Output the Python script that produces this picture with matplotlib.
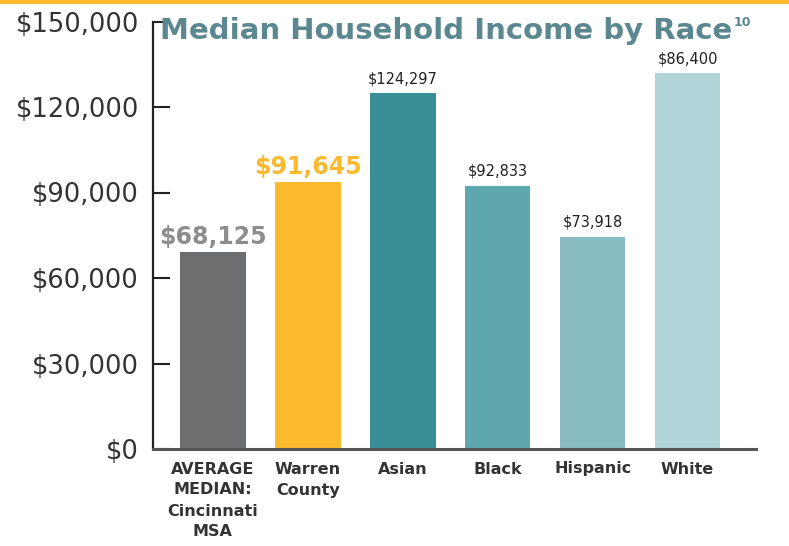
import matplotlib
matplotlib.use("Agg")
import matplotlib.pyplot as plt
from matplotlib.lines import Line2D

categories = ["AVERAGE\nMEDIAN:\nCincinnati\nMSA", "Warren\nCounty", "Asian", "Black", "Hispanic", "White"]
values = [69000, 93700, 124800, 92300, 74400, 131800]
value_labels = ["$68,125", "$91,645", "$124,297", "$92,833", "$73,918", "$86,400"]
colors = ["#6d6e70", "#fbb92e", "#3a8e96", "#5fa7ae", "#88bcc2", "#b1d4d8"]
yticks = [0, 30000, 60000, 90000, 120000, 150000]
ytick_labels = ["$0", "$30,000", "$60,000", "$90,000", "$120,000", "$150,000"]

plt.rcParams['font.family'] = ['DejaVu Sans']

fig = plt.figure(figsize=(7.89, 5.46), dpi=100)
ax = fig.add_axes([153 / 789, 1 - 449 / 546, (756 - 153) / 789, (449 - 21.5) / 546])

x = list(range(len(values)))
ax.bar(x, values, width=0.69, color=colors, zorder=2)

ax.set_ylim(0, 150000)
ax.set_xlim(-0.63, 5.72)
ax.set_yticks(yticks)
ax.set_yticklabels(ytick_labels, fontsize=18.5, color="#333333")
ax.set_xticks(x)
ax.set_xticklabels(categories, fontsize=11.5, fontweight="bold", color="#333333",
                   linespacing=1.5, va="top")
ax.tick_params(axis="y", direction="in", length=12, width=1.5, pad=10, color="#222222")
ax.tick_params(axis="x", length=0, pad=9)

for s in ["top", "right"]:
    ax.spines[s].set_visible(False)
ax.spines["left"].set_linewidth(1.6)
ax.spines["left"].set_color("#222222")
ax.spines["bottom"].set_linewidth(2.2)
ax.spines["bottom"].set_color("#555555")

# value labels
for i, (v, lab) in enumerate(zip(values, value_labels)):
    if i == 0:
        ax.text(i, v + 1200, lab, ha="center", va="bottom", fontsize=17,
                fontweight="bold", color="#8c8d8f")
    elif i == 1:
        ax.text(i, v + 1200, lab, ha="center", va="bottom", fontsize=17,
                fontweight="bold", color="#fbb92e")
    else:
        ax.text(i, v + 2500, lab, ha="center", va="bottom", fontsize=10.5,
                color="#222222")

# title with superscript
title = fig.text(160 / 789, 1 - 31 / 546, "Median Household Income by Race",
                 fontsize=21, fontweight="bold", color="#5b8790", va="center", ha="left")
fig.canvas.draw()
bb = title.get_window_extent()
fig.text(bb.x1 / fig.bbox.width + 0.002, 1 - 22 / 546, "10", fontsize=9,
         fontweight="bold", color="#5b8790", va="center", ha="left")

# orange rule at top
fig.add_artist(Line2D([0, 1], [1 - 2 / 546, 1 - 2 / 546], color="#fbb92e",
                      linewidth=3, transform=fig.transFigure))

fig.savefig("out.png", dpi=100)
